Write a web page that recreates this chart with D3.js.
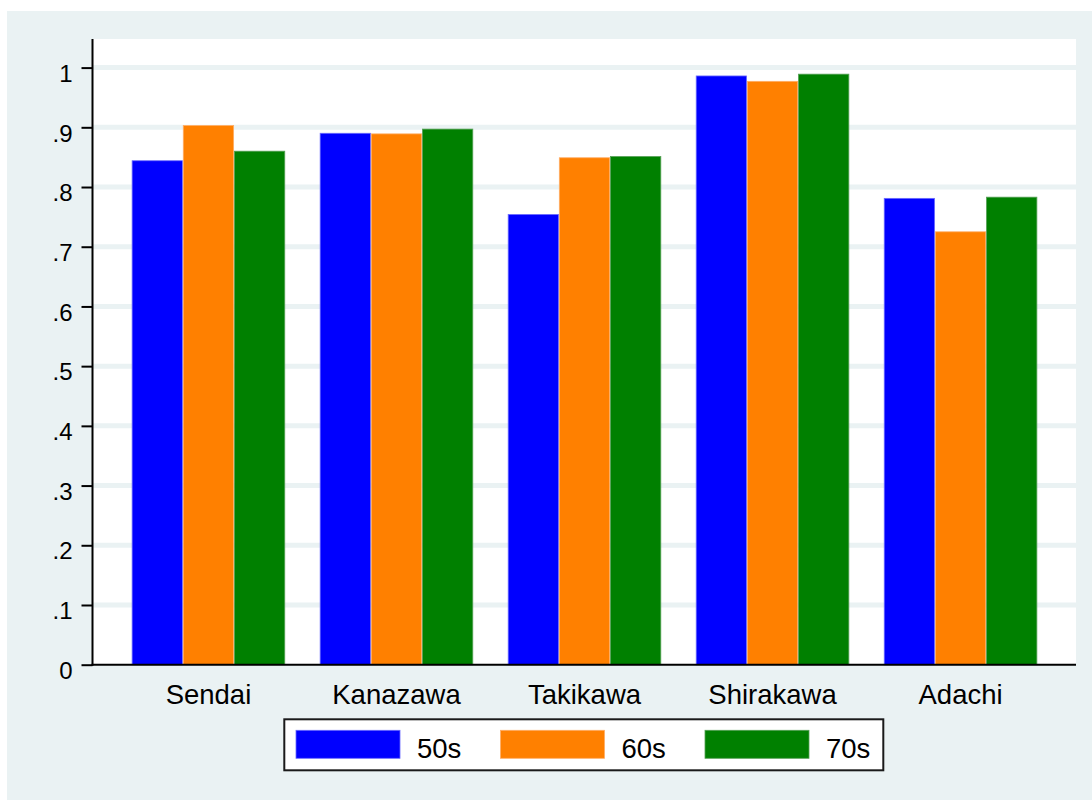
<!DOCTYPE html>
<html>
<head>
<meta charset="utf-8">
<script src="https://cdn.jsdelivr.net/npm/d3@7/dist/d3.min.js"></script>
<style>
  html, body { margin: 0; padding: 0; background: #ffffff; }
  svg { display: block; }
  text { font-family: "Liberation Sans", Arial, Helvetica, sans-serif; fill: #000; }
</style>
</head>
<body>
<svg id="chart" width="1092" height="800"></svg>
<script>
// ---- data ----
const categories = ["Sendai", "Kanazawa", "Takikawa", "Shirakawa", "Adachi"];
const seriesNames = ["50s", "60s", "70s"];
const values50s = [0.844, 0.890, 0.754, 0.986, 0.781];
const values60s = [0.903, 0.889, 0.849, 0.977, 0.725];
const values70s = [0.860, 0.897, 0.851, 0.989, 0.783];
const yTicks = [0, 0.1, 0.2, 0.3, 0.4, 0.5, 0.6, 0.7, 0.8, 0.9, 1];
const yTickLabels = ["0", ".1", ".2", ".3", ".4", ".5", ".6", ".7", ".8", ".9", "1"];
const colors = ["#0000ff", "#ff8000", "#008000"];
const outlineColors = ["#6a6aff", "#ffad66", "#55a055"];

const seriesValues = [values50s, values60s, values70s];

// ---- layout ----
const svg = d3.select("#chart");
const W = 1092, H = 800;
const bgColor = "#eaf2f3";
const plot = { left: 93, right: 1076, top: 39, bottom: 664.7 };

// outer background
svg.append("rect").attr("x", 7).attr("y", 11).attr("width", W - 7).attr("height", H - 11).attr("fill", bgColor);
// plot region
svg.append("rect").attr("x", plot.left).attr("y", plot.top)
  .attr("width", plot.right - plot.left).attr("height", plot.bottom - plot.top).attr("fill", "#ffffff");

const y = d3.scaleLinear().domain([0, 1]).range([664.7, 67.6]);
const x0 = d3.scaleBand().domain(categories).range([plot.left, plot.right])
  .paddingInner(0.184).paddingOuter(0.206);
const x1 = d3.scaleBand().domain(seriesNames).range([0, x0.bandwidth()]).padding(0);

// gridlines
svg.append("g").selectAll("line").data(yTicks.filter(t => t > 0)).join("line")
  .attr("x1", plot.left).attr("x2", plot.right)
  .attr("y1", d => y(d)).attr("y2", d => y(d))
  .attr("stroke", bgColor).attr("stroke-width", 5);

// bars
const groups = svg.append("g").selectAll("g").data(categories).join("g")
  .attr("transform", c => `translate(${x0(c)},0)`);
groups.selectAll("rect").data((c, i) => seriesNames.map((s, j) => ({ s, j, v: seriesValues[j][i] })))
  .join("rect")
  .attr("x", d => x1(d.s) + 0.4)
  .attr("width", x1.bandwidth() - 0.8)
  .attr("y", d => y(d.v))
  .attr("height", d => y(0) - y(d.v))
  .attr("fill", d => colors[d.j])
  .attr("stroke", d => outlineColors[d.j])
  .attr("stroke-width", 0.8);

// y axis
const yAxis = d3.axisLeft(y).tickValues(yTicks).tickFormat((d, i) => yTickLabels[i]).tickSize(11).tickSizeOuter(0);
const gy = svg.append("g").attr("transform", `translate(${plot.left - 0.5},0)`).call(yAxis);
gy.select(".domain").remove();
gy.selectAll(".tick line").attr("stroke", "#000").attr("stroke-width", 2);
gy.selectAll(".tick text")
  .attr("x", -20)
  .attr("dy", "13.7px")
  .attr("dominant-baseline", "auto")
  .style("font-size", "24px")
  .style("font-family", '"Liberation Sans", Arial, sans-serif')
  .attr("fill", "#000");
// y axis line
svg.append("line").attr("x1", plot.left - 0.5).attr("x2", plot.left - 0.5)
  .attr("y1", plot.top).attr("y2", plot.bottom + 1)
  .attr("stroke", "#000").attr("stroke-width", 2);

// x axis line
svg.append("line").attr("x1", plot.left - 1.5).attr("x2", plot.right)
  .attr("y1", plot.bottom).attr("y2", plot.bottom)
  .attr("stroke", "#000").attr("stroke-width", 2);

// x labels
const xAxis = d3.axisBottom(x0).tickSize(0).tickSizeOuter(0);
const gx = svg.append("g").attr("transform", `translate(0,${plot.bottom})`).call(xAxis);
gx.select(".domain").remove();
gx.selectAll(".tick text")
  .attr("y", 39.3).attr("dy", 0)
  .style("font-size", "27.5px")
  .style("font-family", '"Liberation Sans", Arial, sans-serif')
  .attr("fill", "#000");

// legend
const legend = svg.append("g");
legend.append("rect").attr("x", 284.3).attr("y", 719.3).attr("width", 599).attr("height", 51)
  .attr("fill", "#ffffff").attr("stroke", "#1a1a1a").attr("stroke-width", 2);
const legendX = d3.scalePoint().domain(seriesNames).range([296, 705]);
const li = legend.selectAll("g").data(seriesNames).join("g")
  .attr("transform", d => `translate(${legendX(d)},730.3)`);
li.append("rect").attr("width", 104).attr("height", 28)
  .attr("fill", (d, i) => colors[i]).attr("stroke", (d, i) => outlineColors[i]).attr("stroke-width", 0.8);
li.append("text").attr("x", 121).attr("y", 28)
  .style("font-size", "27.5px").text(d => d);
</script>
</body>
</html>
